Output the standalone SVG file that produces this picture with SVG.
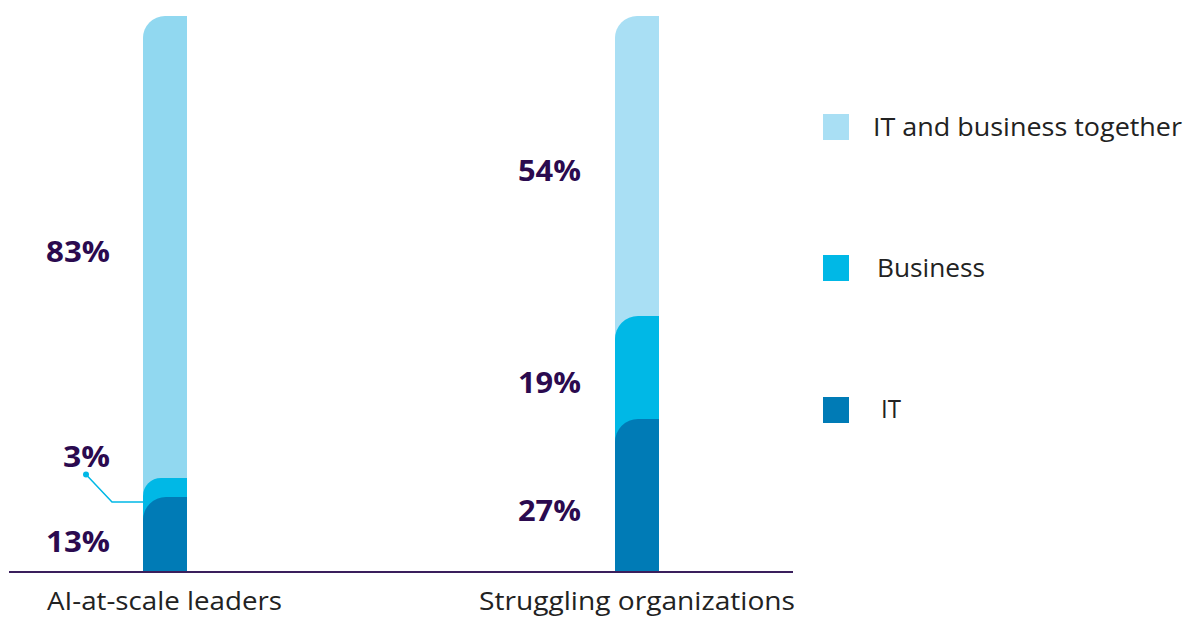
<svg xmlns="http://www.w3.org/2000/svg" width="1191" height="617" viewBox="0 0 1191 617">
<style>
.val{font-family:"Open Sans","Noto Sans",sans-serif;font-weight:700;font-size:29px;fill:#2b0a4f}
.lbl{font-family:"Open Sans","Noto Sans",sans-serif;font-weight:400;font-size:25px;fill:#222}
.together{fill:#a9dff4}
.biz{fill:#00b8e6}
.it{fill:#007bb6}
</style>
<rect width="1191" height="617" fill="#fff"/>
<g id="bar-leaders">
<path d="M143,571 V38 A22,22 0 0 1 165,16 H187 V571 Z" fill="#91d8f0"/>
<path class="biz" d="M143,571 V496 A18,18 0 0 1 161,478 H187 V571 Z"/>
<path class="it" d="M143,571 V520 A23,23 0 0 1 166,497 H187 V571 Z"/>
<text class="val" x="46" y="262" textLength="64" lengthAdjust="spacingAndGlyphs">83%</text>
<text class="val" x="63" y="467" textLength="47" lengthAdjust="spacingAndGlyphs">3%</text>
<text class="val" x="46" y="552" textLength="64" lengthAdjust="spacingAndGlyphs">13%</text>
</g>
<g id="bar-struggling">
<path class="together" d="M615,571 V38 A22,22 0 0 1 637,16 H659 V571 Z"/>
<path class="biz" d="M615,571 V339 A23,23 0 0 1 638,316 H659 V571 Z"/>
<path class="it" d="M615,571 V442 A23,23 0 0 1 638,419 H659 V571 Z"/>
<text class="val" x="518" y="181" textLength="63" lengthAdjust="spacingAndGlyphs">54%</text>
<text class="val" x="518" y="393" textLength="63" lengthAdjust="spacingAndGlyphs">19%</text>
<text class="val" x="518" y="521" textLength="63" lengthAdjust="spacingAndGlyphs">27%</text>
</g>
<g id="connectors">
<circle cx="86" cy="474.5" r="3" fill="#00b8e6"/>
<polyline points="86,474.5 112,502 143,502" fill="none" stroke="#00b8e6" stroke-width="1.5"/>
<line x1="9" y1="572" x2="793" y2="572" stroke="#3a1f5c" stroke-width="2"/>
</g>
<g id="axis-labels">
<text class="lbl" x="47" y="610" textLength="235" lengthAdjust="spacingAndGlyphs">AI-at-scale leaders</text>
<text class="lbl" x="479" y="610" textLength="316" lengthAdjust="spacingAndGlyphs">Struggling organizations</text>
</g>
<g id="legend">
<rect class="together" x="823" y="114" width="26" height="26"/>
<text class="lbl" x="873" y="136" textLength="309" lengthAdjust="spacingAndGlyphs">IT and business together</text>
<rect class="biz" x="823" y="255" width="26" height="26"/>
<text class="lbl" x="877" y="277" textLength="108" lengthAdjust="spacingAndGlyphs">Business</text>
<rect class="it" x="823" y="397" width="26" height="26"/>
<text class="lbl" x="881" y="418" textLength="20" lengthAdjust="spacingAndGlyphs">IT</text>
</g>
</svg>
